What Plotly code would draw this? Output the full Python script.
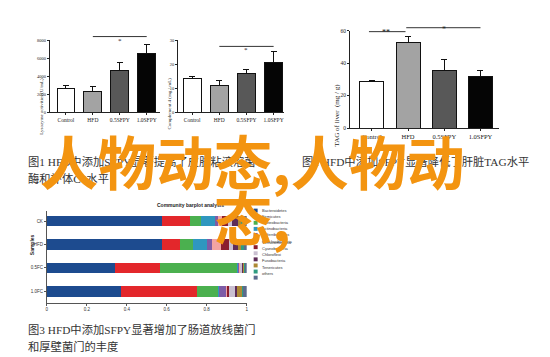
import plotly.graph_objects as go

W, H = 550, 357
def px(x): return x / W
def py(y): return 1 - y / H

# ---------- data ----------
groups = ["Control", "HFD", "0.5SFPY", "1.0SFPY"]
bar_colors = ["#ffffff", "#a3a3a3", "#585858", "#050505"]

lysozyme = [2600, 2350, 4700, 6500]
lysozyme_err = [400, 500, 900, 1100]
lyso_ticks = [0, 2000, 4000, 6000, 8000]

complement = [14.0, 11.3, 16.3, 21.0]
complement_err = [0.8, 1.8, 1.5, 4.3]
comp_ticks = [0, 10, 20, 30]

tag_liver = [28.5, 53.0, 35.5, 32.0]
tag_err = [0.8, 3.5, 6.5, 3.5]
tag_ticks = [0, 20, 40, 60]

samples = ["CK", "HFD", "0.5FC", "1.0FC"]
phyla = ["Bacteroidetes", "Firmicutes", "Proteobacteria", "Actinobacteria",
         "Deferribacteres", "Saccharibacteria", "Verrucomicrobia", "Cyanobacteria",
         "Chloroflexi", "Fusobacteria", "Tenericutes", "others"]
phyla_colors = ["#1d4b8f", "#e3272b", "#4bb04f", "#2f97bf", "#7d5ca6", "#f3a3a3",
                "#8b1d2e", "#c9bfd0", "#5e2c58", "#ae8a35", "#2f9b80", "#5b6a8d"]
abund = {
    "CK":    [0.575, 0.140, 0.055, 0.070, 0.015, 0.020, 0.030, 0.020, 0.030, 0.015, 0.015, 0.015],
    "HFD":   [0.575, 0.090, 0.065, 0.070, 0.025, 0.045, 0.040, 0.020, 0.025, 0.015, 0.015, 0.015],
    "0.5FC": [0.340, 0.225, 0.390, 0.005, 0.003, 0.003, 0.002, 0.012, 0.003, 0.004, 0.003, 0.010],
    "1.0FC": [0.373, 0.378, 0.105, 0.005, 0.035, 0.008, 0.007, 0.030, 0.010, 0.025, 0.004, 0.020],
}
x3_ticks = [0, 0.2, 0.4, 0.6, 0.8, 1]
x3_ticklabels = ["0", "0.2", "0.4", "0.6", "0.8", "1"]

SERIF = "Liberation Serif, Noto Sans CJK SC"
CJK = "Liberation Serif, Noto Sans CJK SC"

fig = go.Figure()

def add_bars(values, errs, xa, ya):
    fig.add_trace(go.Bar(
        x=groups, y=values, xaxis=xa, yaxis=ya, width=0.66,
        marker=dict(color=bar_colors, line=dict(color="#111", width=1)),
        error_y=dict(type="data", array=errs, arrayminus=[0]*len(errs), symmetric=False,
                     color="#111", thickness=1, width=3),
        showlegend=False))

add_bars(lysozyme, lysozyme_err, "x", "y")
add_bars(complement, complement_err, "x2", "y2")
add_bars(tag_liver, tag_err, "x3", "y3")

for i, ph in enumerate(phyla):
    fig.add_trace(go.Bar(
        y=samples, x=[abund[s][i] for s in samples], orientation="h",
        xaxis="x4", yaxis="y4", width=0.46, name=ph,
        marker=dict(color=phyla_colors[i], line=dict(width=0)), showlegend=False))

axis_common = dict(showline=True, linecolor="#222", linewidth=1, showgrid=False,
                   zeroline=False, ticks="outside", ticklen=2, tickcolor="#222")

fig.update_layout(
    width=W, height=H, margin=dict(l=0, r=0, t=0, b=0),
    paper_bgcolor="white", plot_bgcolor="white", barmode="stack",
    bargap=0.3,
    xaxis=dict(domain=[px(41), px(152)], anchor="y", range=[-0.6, 3.5],
               tickfont=dict(family=SERIF, size=5.5, color="#222"), **axis_common),
    yaxis=dict(domain=[py(103), py(30)], anchor="x", range=[0, 8000], tickvals=lyso_ticks,
               tickfont=dict(family=SERIF, size=4.5, color="#222"), **axis_common),
    xaxis2=dict(domain=[px(170), px(277)], anchor="y2", range=[-0.52, 3.4],
                tickfont=dict(family=SERIF, size=5.5, color="#222"), **axis_common),
    yaxis2=dict(domain=[py(103), py(30)], anchor="x2", range=[0, 30], tickvals=comp_ticks,
                tickfont=dict(family=SERIF, size=4.5, color="#222"), **axis_common),
    xaxis3=dict(domain=[px(343), px(493)], anchor="y3", range=[-0.6, 3.52],
                tickfont=dict(family=SERIF, size=6.5, color="#222"), **axis_common),
    yaxis3=dict(domain=[py(119), py(20)], anchor="x3", range=[0, 60], tickvals=tag_ticks,
                tickfont=dict(family=SERIF, size=5.5, color="#222"), **axis_common),
    xaxis4=dict(domain=[px(38), px(239)], anchor="y4", range=[0, 1.0], tickvals=x3_ticks,
                ticktext=x3_ticklabels,
                tickfont=dict(family="Liberation Sans", size=4.5, color="#333"),
                showline=True, linecolor="#555", linewidth=1, showgrid=False, zeroline=False,
                ticks="outside", ticklen=2, tickcolor="#555"),
    yaxis4=dict(domain=[py(297), py(203)], anchor="x4", range=[3.5, -0.45],
                categoryorder="array", categoryarray=samples,
                tickfont=dict(family="Liberation Sans", size=4.5, color="#333"),
                showline=True, linecolor="#555", linewidth=1, showgrid=False, zeroline=False,
                ticks="outside", ticklen=2, tickcolor="#555"),
)

shapes = []
ann = []
# significance markers
def sig(xref, x0, x1, ypx, text, tx, typ, size=7):
    shapes.append(dict(type="line", xref=xref, yref="paper", x0=x0, x1=x1,
                       y0=py(ypx), y1=py(ypx), line=dict(color="#333", width=1)))
    ann.append(dict(xref=xref, yref="paper", x=tx, y=py(typ), text=text, showarrow=False,
                    font=dict(family=SERIF, size=size, color="#222")))

sig("x", 1, 3, 26, "*", 2, 24)
sig("x2", 1, 3, 36, "*", 2, 34)
sig("x3", -0.08, 0.93, 21, "**", 0.4, 15, 8)
sig("x3", 0.95, 3.0, 17, "*", 2.0, 12, 8)

# y axis titles
ann.append(dict(xref="paper", yref="paper", x=px(28), y=py(66), text="Lysozyme activities (U/mL)",
                textangle=-90, showarrow=False, font=dict(family=SERIF, size=5, color="#222")))
ann.append(dict(xref="paper", yref="paper", x=px(157), y=py(66), text="Complement 4 (mg / mL)",
                textangle=-90, showarrow=False, font=dict(family=SERIF, size=5, color="#222")))
ann.append(dict(xref="paper", yref="paper", x=px(330), y=py(72), text="TAG of liver  (mg / g)",
                textangle=-90, showarrow=False, font=dict(family=SERIF, size=7, color="#222")))

# fig3 title and samples label
ann.append(dict(xref="paper", yref="paper", x=px(147), y=py(197), text="<b>Community barplot analysis</b>",
                showarrow=False, font=dict(family="Liberation Sans", size=5, color="#222")))
ann.append(dict(xref="paper", yref="paper", x=px(18), y=py(250), text="<b>Samples</b>",
                textangle=-90, showarrow=False, font=dict(family="Liberation Sans", size=5, color="#222")))

# fig3 legend
for i, ph in enumerate(phyla):
    yc = 203 + i * 6.2
    shapes.append(dict(type="rect", xref="paper", yref="paper", x0=px(246), x1=px(250),
                       y0=py(yc + 2), y1=py(yc - 2), fillcolor=phyla_colors[i], line=dict(width=0)))
    ann.append(dict(xref="paper", yref="paper", x=px(252), y=py(yc), text=ph, xanchor="left",
                    showarrow=False, font=dict(family="Liberation Sans", size=4, color="#333")))

# captions
cap_font = dict(family=CJK, size=11.3, color="#333")
def cap(x, y, text):
    ann.append(dict(xref="paper", yref="paper", x=px(x), y=py(y), text=text, xanchor="left",
                    yanchor="middle", showarrow=False, font=cap_font))

cap(17, 153, "图1 HFD中添加SFPY显著提高了皮肤粘液溶菌")
cap(17, 170, "酶和补体C4水平")
cap(293, 153, "图2 HFD中添加SFPY显著降低了肝脏TAG水平")
cap(17, 324, "图3 HFD中添加SFPY显著增加了肠道放线菌门")
cap(17, 341, "和厚壁菌门的丰度")

# overlay title text
big = dict(family="Noto Sans CJK SC", size=58, color="#f39410", weight="bold")
ann.append(dict(xref="paper", yref="paper", x=px(245), y=py(152), text="人物动态,人物动",
                showarrow=False, xanchor="center", yanchor="middle", font=big))
ann.append(dict(xref="paper", yref="paper", x=px(245), y=py(209), text="态,",
                showarrow=False, xanchor="center", yanchor="middle", font=big))

fig.update_layout(shapes=shapes, annotations=ann)
fig.write_html("out.html")
